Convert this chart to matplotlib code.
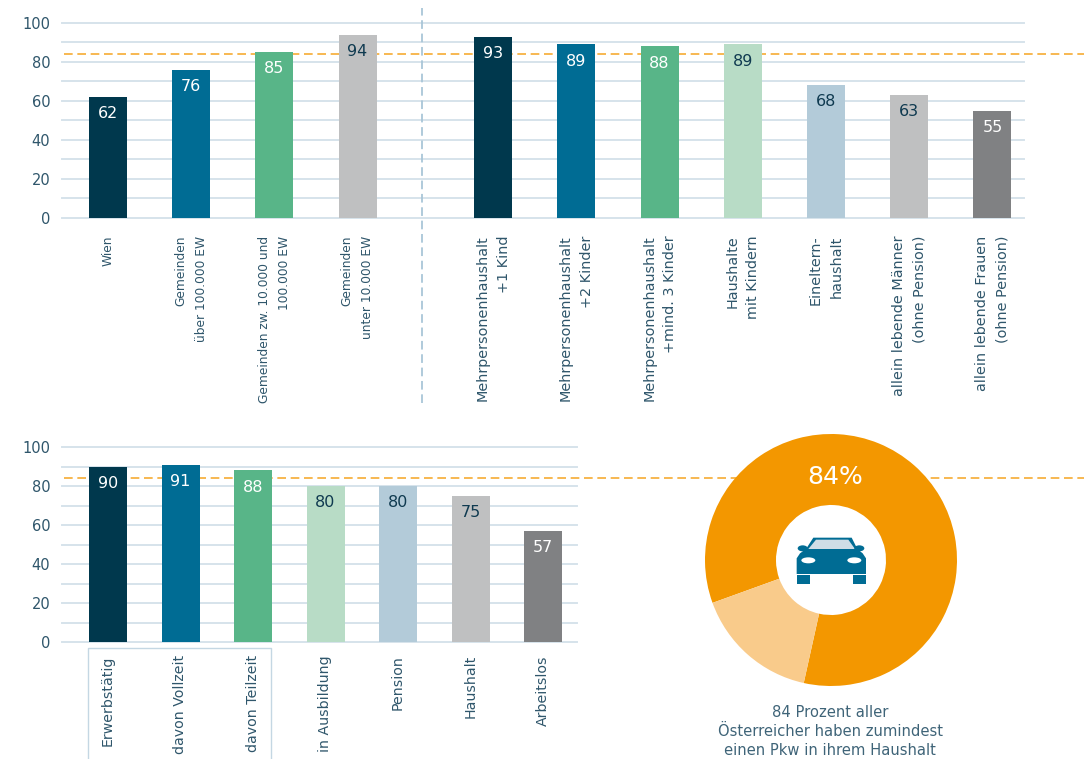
import matplotlib
matplotlib.use('Agg')
import matplotlib.pyplot as plt
from matplotlib.patches import Polygon, Ellipse, Rectangle
import numpy as np

plt.rcParams['font.family'] = ['DejaVu Sans']

W, H = 1084, 759

DARK = '#00384d'
BLUE = '#006c94'
GREEN = '#58b588'
LGREEN = '#b8dcc6'
LBLUE = '#b3cbd9'
GREY = '#bfc0c1'
DGREY = '#808183'
ORANGE = '#f39700'
LORANGE = '#f9cb8b'
GRID = '#d6e3eb'
TXT = '#2f566b'

top_labels = ['Wien', 'Gemeinden\nüber 100.000 EW', 'Gemeinden zw. 10.000 und\n100.000 EW',
              'Gemeinden\nunter 10.000 EW', 'Mehrpersonenhaushalt\n+1 Kind',
              'Mehrpersonenhaushalt\n+2 Kinder', 'Mehrpersonenhaushalt\n+mind. 3 Kinder',
              'Haushalte\nmit Kindern', 'Eineltern-\nhaushalt',
              'allein lebende Männer\n(ohne Pension)', 'allein lebende Frauen\n(ohne Pension)']
top_values = [62, 76, 85, 94, 93, 89, 88, 89, 68, 63, 55]
top_colors = [DARK, BLUE, GREEN, GREY, DARK, BLUE, GREEN, LGREEN, LBLUE, GREY, DGREY]
top_text = ['w', 'w', 'w', 'd', 'w', 'w', 'w', 'd', 'd', 'd', 'w']

bottom_labels = ['Erwerbstätig', 'davon Vollzeit', 'davon Teilzeit', 'in Ausbildung',
                 'Pension', 'Haushalt', 'Arbeitslos']
bottom_values = [90, 91, 88, 80, 80, 75, 57]
bottom_colors = [DARK, BLUE, GREEN, LGREEN, LBLUE, GREY, DGREY]
bottom_text = ['w', 'w', 'w', 'd', 'd', 'd', 'w']

mean_value = 84
donut_values = [84, 16]
donut_colors = [ORANGE, LORANGE]
caption = '84 Prozent aller\nÖsterreicher haben zumindest\neinen Pkw in ihrem Haushalt'


def px_axes(fig, left, top, right, bottom):
    return fig.add_axes([left / W, 1 - bottom / H, (right - left) / W, (bottom - top) / H])


def bar_panel(ax, pos, values, colors, text, labels, step, x0, pad, x_right):
    left, right = ax.get_position().x0 * W, ax.get_position().x1 * W
    ax.set_xlim((left - x0) / step, (right - x0) / step)
    ax.set_ylim(0, 100)
    ax.set_yticks(np.arange(0, 101, 20))
    ax.set_yticks(np.arange(0, 101, 10), minor=True)
    ax.grid(True, axis='y', which='both', color=GRID, lw=1.4, zorder=0)
    ax.set_axisbelow(True)
    for t in ax.yaxis.get_major_ticks() + ax.yaxis.get_minor_ticks():
        t.gridline.set_clip_on(False)
    for s in ax.spines.values():
        s.set_visible(False)
    ax.tick_params(axis='y', which='both', length=0, pad=8.5, labelsize=10.5, labelcolor=TXT)
    ax.tick_params(axis='x', length=0, pad=pad, labelcolor=TXT)
    ax.axhline(mean_value, xmin=(64 - left) / (right - left), xmax=(x_right - left) / (right - left),
               color=ORANGE, alpha=0.8, lw=1.2, dashes=(5.2, 2.8), clip_on=False, zorder=1)
    bars = ax.bar(pos, values, width=38 / step, color=colors, zorder=2)
    for b, v, t in zip(bars, values, text):
        ax.annotate(str(v), (b.get_x() + b.get_width() / 2, v), xytext=(0, -12),
                    textcoords='offset points', ha='center', va='center', fontsize=11.5,
                    color='white' if t == 'w' else '#0f3a50', zorder=3)
    ax.set_xticks(pos, labels, rotation=90, va='top', ha='center', multialignment='right')


fig = plt.figure(figsize=(W / 100, H / 100), dpi=100, facecolor='white')

# top chart
ax1 = px_axes(fig, 62, 23, 1024, 217.5)
top_pos = np.arange(len(top_values), dtype=float)
top_pos[4:] += 0.63
bar_panel(ax1, top_pos, top_values, top_colors, top_text, top_labels, 83.2, 108, 13, 1084)
for i, lab in enumerate(ax1.get_xticklabels()):
    lab.set_fontsize(8.8 if i < 4 else 10.4)
    lab.set_linespacing(1.75 if i < 4 else 1.6)
ax1.axvline(3.774, ymin=-0.954, ymax=1.077, color='#a9c6d8', lw=1.3, dashes=(4.8, 2.6), clip_on=False)

# bottom chart
ax2 = px_axes(fig, 62, 447, 577, 642)
bottom_pos = np.arange(len(bottom_values), dtype=float)
bar_panel(ax2, bottom_pos, bottom_values, bottom_colors, bottom_text, bottom_labels, 72.5, 108, 9.5, 1084)
for lab in ax2.get_xticklabels():
    lab.set_fontsize(10.2)

# donut
ax3 = px_axes(fig, 701, 430, 961, 690)
ax3.pie(donut_values, colors=donut_colors, startangle=257.5, radius=1,
        wedgeprops=dict(width=71 / 126, linewidth=0))
ax3.set_xlim(-130 / 126, 130 / 126)
ax3.set_ylim(-130 / 126, 130 / 126)
ax3.set_zorder(5)
ax3.patch.set_alpha(0)

# overlay in pixel units for box, car icon and the texts around the donut
ov = fig.add_axes([0, 0, 1, 1], zorder=6)
ov.set_xlim(0, W)
ov.set_ylim(H, 0)
ov.axis('off')
ov.patch.set_alpha(0)
ov.plot([88, 88, 271, 271], [760, 648, 648, 760], color='#c4d7e3', lw=1.0, clip_on=False)
ov.text(835, 477, '84%', color='white', fontsize=18, ha='center', va='center')
ov.text(830, 731.5, caption, color='#3f6478', fontsize=10.6, ha='center', va='center', linespacing=1.3)


def z(x, y):
    return 780 + x / 3, 525 + y / 3


ov.add_patch(Polygon([z(*p) for p in [(50, 147), (50, 100), (60, 85), (78, 72), (100, 38), (215, 38),
                                      (232, 72), (248, 85), (258, 100), (258, 147)]], color=BLUE, lw=0))
ov.add_patch(Polygon([z(*p) for p in [(85, 72), (108, 44), (205, 44), (225, 72)]], color='#cfdde6', lw=0))
for cx in (68, 238):
    ov.add_patch(Ellipse(z(cx, 70), 10, 6, color=BLUE, lw=0))
for cx in (85, 223):
    ov.add_patch(Ellipse(z(cx, 106), 14, 6, color='white', lw=0))
for cx in (50, 218):
    x, y = z(cx, 150)
    ov.add_patch(Rectangle((x, y), 13.5, 8.5, color=BLUE, lw=0))

fig.savefig('out.png', dpi=100)
